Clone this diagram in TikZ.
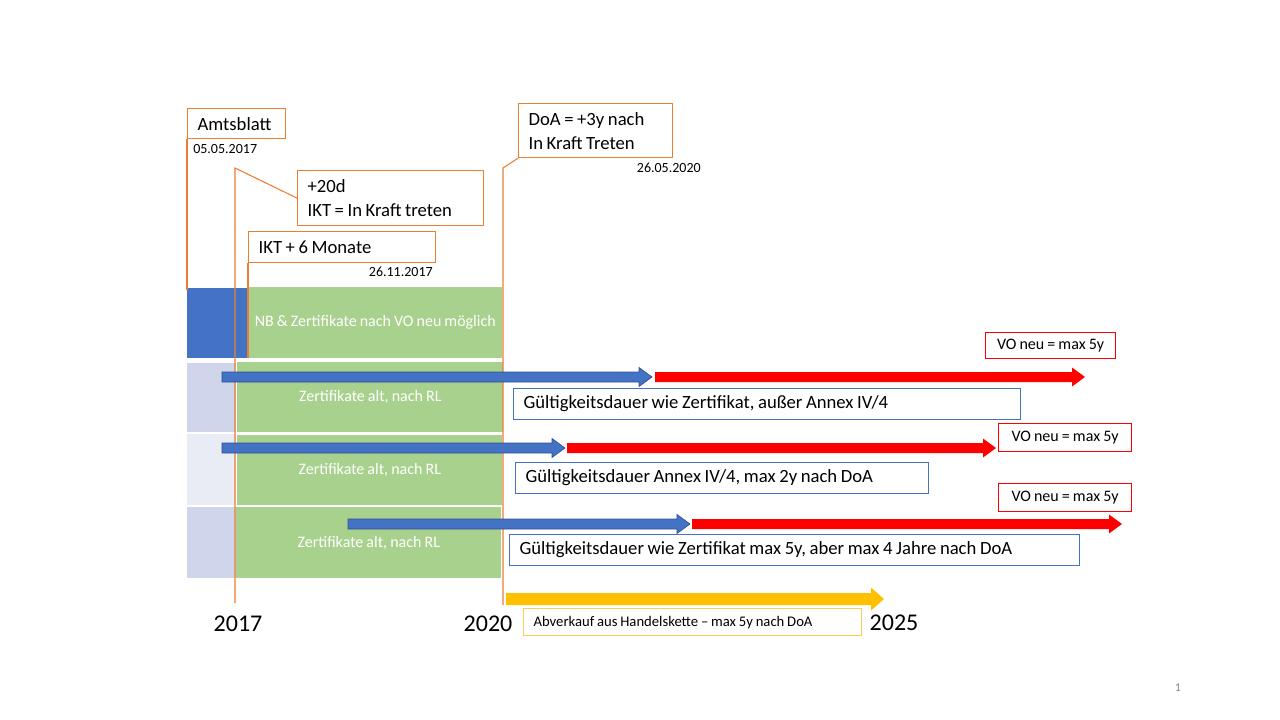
\documentclass[tikz,border=0pt]{standalone}
\usepackage{fontspec}
\setmainfont[WordSpace={0.85}]{Carlito}
\definecolor{orng}{HTML}{ED7D31}
\definecolor{blu}{HTML}{4472C4}
\definecolor{bludk}{HTML}{2F528F}
\definecolor{grn}{HTML}{A9D18E}
\definecolor{lav}{HTML}{CFD5EA}
\definecolor{lavlt}{HTML}{E9EBF5}
\definecolor{rd}{HTML}{FF0000}
\definecolor{yel}{HTML}{FFC000}
\definecolor{yellt}{HTML}{F9CD5C}
\definecolor{pgray}{HTML}{898989}
% style, x1, x2, y, shaft half, head half, head length
\newcommand\tlarrow[7]{%
  \filldraw[#1] (#2,#4-#5) -- (#3-#7,#4-#5) -- (#3-#7,#4-#6) -- (#3,#4)
    -- (#3-#7,#4+#6) -- (#3-#7,#4+#5) -- (#2,#4+#5) -- cycle;}
\begin{document}
\begin{tikzpicture}[x=0.75pt,y=-0.75pt,
  obox/.style={draw=orng, line width=0.9pt, anchor=north west, inner xsep=7.5pt,
    inner ysep=0pt, align=flush left, font=\fontsize{14}{18}\selectfont},
  bbox/.style={draw=blu, line width=0.9pt, anchor=north west, inner xsep=7.5pt,
    inner ysep=0pt, align=flush left, font=\fontsize{14}{18}\selectfont},
  rbox/.style={draw=rd, line width=0.9pt, anchor=north west, inner xsep=0pt,
    inner ysep=0pt, align=center, font=\fontsize{12}{14}\selectfont},
  ybox/.style={draw=yellt, line width=0.9pt, anchor=north west, inner xsep=7.5pt,
    inner ysep=0pt, align=flush left, font=\fontsize{11}{13}\selectfont},
  blk/.style={anchor=north west, inner sep=0pt},
  gblk/.style={blk, fill=grn, text=white, font=\fontsize{12}{14}\selectfont},
  datel/.style={font=\fontsize{10.5}{12}\selectfont, inner sep=0pt},
  yearl/.style={font=\fontsize{18}{20}\selectfont, inner sep=0pt},
  oline/.style={draw=orng, line width=0.8pt},
  barrow/.style={fill=blu, draw=bludk, line width=0.5pt},
  rarrow/.style={fill=rd, draw=none},
  yarrow/.style={fill=yel, draw=none}]
\useasboundingbox (0,0) rectangle (1280,720);

% ---- row blocks
\node[blk, fill=blu, minimum width=45pt, minimum height=52.5pt] (b1) at (187,288) {};
\node[gblk, minimum width=190.5pt, minimum height=53.25pt] (g1) at (248,287) {NB \& Zertifikate nach VO neu möglich};
\node[blk, fill=lav, minimum width=36.75pt, minimum height=51.75pt] (b2) at (187,363) {};
\node[gblk, minimum width=199.5pt, minimum height=52.5pt] (g2) at (237,362) {Zertifikate alt, nach RL};
\node[blk, fill=lavlt, minimum width=36.75pt, minimum height=53.25pt] (b3) at (187,434) {};
\node[gblk, minimum width=198.75pt, minimum height=52.5pt] (g3) at (237,435) {Zertifikate alt, nach RL};
\node[blk, fill=lav, minimum width=36.75pt, minimum height=53.25pt] (b4) at (187,507) {};
\node[gblk, minimum width=198.75pt, minimum height=53.25pt] (g4) at (236,507) {Zertifikate alt, nach RL};

% ---- callout boxes
\node[obox, text width=58.5pt, minimum height=22.5pt] (amts) at (187,108) {Amtsblatt};
\node[datel, anchor=west] (d1) at (193,149) {05.05.2017};
\node[obox, text width=124.5pt, minimum height=41.25pt] (tw) at (297,170) {+20d\\IKT = In Kraft treten};
\node[obox, text width=125.25pt, minimum height=23.25pt] (ikt) at (248,231) {IKT + 6 Monate};
\node[datel, anchor=east] (d2) at (433,272) {26.11.2017};
\node[obox, text width=100.5pt, minimum height=40.5pt] (doa) at (518,103) {DoA = +3y nach\\In Kraft Treten};
\node[datel, anchor=east] (d3) at (701,168) {26.05.2020};

% ---- callout lines
\coordinate (c1) at (187,290);
\coordinate (c2) at (235,168);
\coordinate (c3) at (235,603);
\coordinate (c4) at (248,358);
\coordinate (c5) at (503,168);
\coordinate (c6) at (503,605);
\draw[oline] (amts.south west) -- (c1);
\draw[oline] (tw.west) -- (c2) -- (c3);
\draw[oline] (ikt.south west) -- (c4);
\draw[oline] (doa.south west) -- (c5) -- (c6);

% ---- arrows
\tlarrow{barrow}{222}{652}{377}{5}{9.5}{13}
\tlarrow{rarrow}{655}{1085}{377}{5}{9.5}{13}
\tlarrow{barrow}{222}{565}{448}{5}{9.5}{13}
\tlarrow{rarrow}{567}{996}{448}{5}{9.5}{13}
\tlarrow{barrow}{348}{690}{524}{5}{9.5}{13}
\tlarrow{rarrow}{692}{1122}{524}{5}{9.5}{13}
\tlarrow{yarrow}{506}{884}{599}{6}{11.5}{13}

% ---- labels
\node[rbox, minimum width=97.5pt, minimum height=19.5pt] (vo1) at (985,332) {VO neu = max 5y};
\node[bbox, text width=365.25pt, minimum height=23.25pt] (gd1) at (513,388) {Gültigkeitsdauer wie Zertifikat, außer Annex IV/4};
\node[rbox, minimum width=99.75pt, minimum height=21pt] (vo2) at (998,423) {VO neu = max 5y};
\node[bbox, text width=294.75pt, minimum height=23.25pt] (gd2) at (515,462) {Gültigkeitsdauer Annex IV/4, max 2y nach DoA};
\node[rbox, minimum width=99.75pt, minimum height=21pt] (vo3) at (998,483) {VO neu = max 5y};
\node[bbox, text width=412.5pt, minimum height=23.25pt] (gd3) at (509,534) {Gültigkeitsdauer wie Zertifikat max 5y, aber max 4 Jahre nach DoA};
\node[ybox, text width=238.5pt, minimum height=20.25pt] (abv) at (523,608) {Abverkauf aus Handelskette – max 5y nach DoA};

% ---- years
\node[yearl] (y1) at (238,624) {2017};
\node[yearl] (y2) at (488,624) {2020};
\node[yearl] (y3) at (894,623) {2025};
\node[font=\fontsize{9}{11}\selectfont, text=pgray, inner sep=0pt] (pn) at (1178,688) {1};
\end{tikzpicture}
\end{document}
